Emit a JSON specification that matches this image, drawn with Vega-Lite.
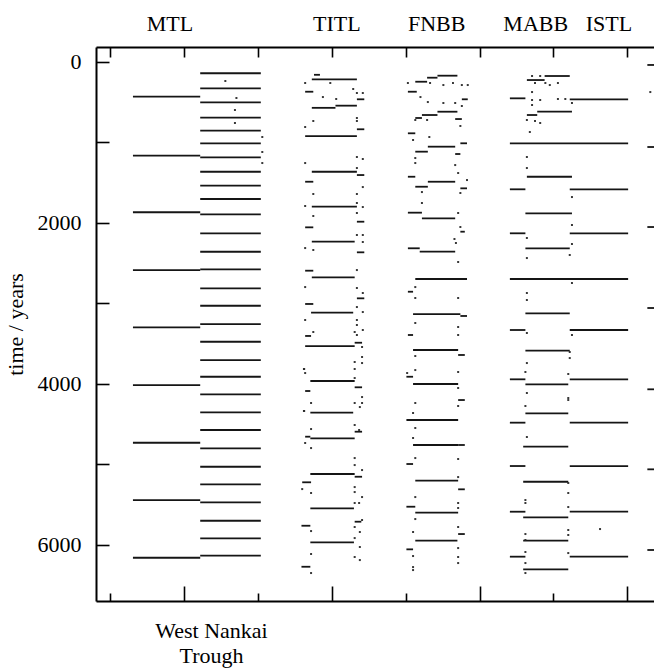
{
  "$schema": "https://vega.github.io/schema/vega-lite/v6.json",
  "width": 558,
  "height": 554,
  "autosize": "none",
  "padding": {"left": 96, "top": 47, "right": 0, "bottom": 67},
  "background": "white",
  "config": {"view": {"stroke": null}, "font": "Liberation Serif"},
  "datasets": {
    "segs": [
      {"x1": 31, "x2": 122, "t": 437}, {"x1": 31, "x2": 122, "t": 1169}, {"x1": 31, "x2": 122, "t": 1871},
      {"x1": 31, "x2": 122, "t": 2588}, {"x1": 31, "x2": 122, "t": 3299}, {"x1": 31, "x2": 122, "t": 4015},
      {"x1": 31, "x2": 122, "t": 4731}, {"x1": 31, "x2": 122, "t": 5442}, {"x1": 31, "x2": 122, "t": 6158},
      {"x1": 122, "x2": 204, "t": 146}, {"x1": 122, "x2": 204, "t": 333}, {"x1": 122, "x2": 204, "t": 506},
      {"x1": 122, "x2": 204, "t": 697}, {"x1": 122, "x2": 204, "t": 859}, {"x1": 122, "x2": 204, "t": 1015},
      {"x1": 122, "x2": 204, "t": 1189}, {"x1": 122, "x2": 204, "t": 1368}, {"x1": 122, "x2": 204, "t": 1541},
      {"x1": 122, "x2": 204, "t": 1706}, {"x1": 122, "x2": 204, "t": 1896}, {"x1": 122, "x2": 204, "t": 2132},
      {"x1": 122, "x2": 204, "t": 2361}, {"x1": 122, "x2": 204, "t": 2579}, {"x1": 122, "x2": 204, "t": 2815},
      {"x1": 122, "x2": 204, "t": 3031}, {"x1": 122, "x2": 204, "t": 3258}, {"x1": 122, "x2": 204, "t": 3478},
      {"x1": 122, "x2": 204, "t": 3705}, {"x1": 122, "x2": 204, "t": 3912}, {"x1": 122, "x2": 204, "t": 4131},
      {"x1": 122, "x2": 204, "t": 4353}, {"x1": 122, "x2": 204, "t": 4573}, {"x1": 122, "x2": 204, "t": 4800},
      {"x1": 122, "x2": 204, "t": 5029}, {"x1": 122, "x2": 204, "t": 5247}, {"x1": 122, "x2": 204, "t": 5470},
      {"x1": 122, "x2": 204, "t": 5699}, {"x1": 122, "x2": 204, "t": 5917}, {"x1": 122, "x2": 204, "t": 6133},

      {"x1": 273, "x2": 334, "t": 221}, {"x1": 276, "x2": 284, "t": 165},
      {"x1": 273, "x2": 305, "t": 575}, {"x1": 305, "x2": 334, "t": 548},
      {"x1": 264, "x2": 334, "t": 925}, {"x1": 273, "x2": 334, "t": 1368}, {"x1": 273, "x2": 334, "t": 1802},
      {"x1": 273, "x2": 331, "t": 2236}, {"x1": 273, "x2": 331, "t": 2678}, {"x1": 272, "x2": 329, "t": 3117},
      {"x1": 264, "x2": 331, "t": 3531}, {"x1": 271, "x2": 331, "t": 3965}, {"x1": 271, "x2": 329, "t": 4358},
      {"x1": 271, "x2": 331, "t": 4676}, {"x1": 271, "x2": 331, "t": 5119}, {"x1": 271, "x2": 330, "t": 5545},
      {"x1": 271, "x2": 330, "t": 5967},
      {"x1": 264, "x2": 275, "t": 375}, {"x1": 264, "x2": 275, "t": 1492}, {"x1": 264, "x2": 275, "t": 2058},
      {"x1": 264, "x2": 275, "t": 2596}, {"x1": 264, "x2": 275, "t": 3009}, {"x1": 264, "x2": 272, "t": 3406},
      {"x1": 261, "x2": 264, "t": 3816}, {"x1": 264, "x2": 271, "t": 4089}, {"x1": 261, "x2": 264, "t": 4337},
      {"x1": 264, "x2": 271, "t": 4656}, {"x1": 260, "x2": 272, "t": 5222}, {"x1": 259, "x2": 271, "t": 5761},
      {"x1": 259, "x2": 271, "t": 6270},
      {"x1": 334, "x2": 344, "t": 469}, {"x1": 334, "x2": 344, "t": 841}, {"x1": 334, "x2": 344, "t": 1409},
      {"x1": 334, "x2": 344, "t": 1988}, {"x1": 334, "x2": 344, "t": 2368}, {"x1": 334, "x2": 344, "t": 2939},
      {"x1": 331, "x2": 341, "t": 3490}, {"x1": 331, "x2": 341, "t": 4043}, {"x1": 331, "x2": 341, "t": 4594},
      {"x1": 331, "x2": 341, "t": 5153}, {"x1": 331, "x2": 340, "t": 5711},

      {"x1": 429, "x2": 443, "t": 201}, {"x1": 443, "x2": 470, "t": 176}, {"x1": 413, "x2": 429, "t": 251},
      {"x1": 422, "x2": 443, "t": 664}, {"x1": 443, "x2": 470, "t": 623}, {"x1": 413, "x2": 422, "t": 701},
      {"x1": 430, "x2": 467, "t": 1057}, {"x1": 413, "x2": 430, "t": 1119},
      {"x1": 430, "x2": 467, "t": 1492}, {"x1": 413, "x2": 430, "t": 1554},
      {"x1": 422, "x2": 467, "t": 1946}, {"x1": 419, "x2": 467, "t": 2360}, {"x1": 413, "x2": 483, "t": 2699},
      {"x1": 410, "x2": 474, "t": 3134}, {"x1": 474, "x2": 483, "t": 3158}, {"x1": 410, "x2": 471, "t": 3580},
      {"x1": 410, "x2": 471, "t": 4002}, {"x1": 401, "x2": 471, "t": 4449}, {"x1": 410, "x2": 471, "t": 4759},
      {"x1": 471, "x2": 480, "t": 4759}, {"x1": 413, "x2": 471, "t": 5202}, {"x1": 413, "x2": 471, "t": 5599},
      {"x1": 413, "x2": 470, "t": 5947},
      {"x1": 403, "x2": 415, "t": 375}, {"x1": 403, "x2": 413, "t": 891}, {"x1": 403, "x2": 413, "t": 1430},
      {"x1": 403, "x2": 422, "t": 1876}, {"x1": 403, "x2": 419, "t": 2318}, {"x1": 403, "x2": 410, "t": 2857},
      {"x1": 403, "x2": 410, "t": 3394}, {"x1": 401, "x2": 410, "t": 3912}, {"x1": 401, "x2": 410, "t": 4995},
      {"x1": 401, "x2": 413, "t": 5525}, {"x1": 401, "x2": 410, "t": 6054},
      {"x1": 476, "x2": 484, "t": 469}, {"x1": 467, "x2": 476, "t": 714}, {"x1": 474, "x2": 483, "t": 1015},
      {"x1": 467, "x2": 474, "t": 1148}, {"x1": 474, "x2": 483, "t": 1574}, {"x1": 474, "x2": 480, "t": 2112},
      {"x1": 471, "x2": 480, "t": 3642}, {"x1": 471, "x2": 480, "t": 4201}, {"x1": 471, "x2": 480, "t": 5309},
      {"x1": 471, "x2": 480, "t": 5864},

      {"x1": 564, "x2": 588, "t": 230}, {"x1": 588, "x2": 622, "t": 180},
      {"x1": 564, "x2": 578, "t": 664}, {"x1": 578, "x2": 625, "t": 623},
      {"x1": 541, "x2": 701, "t": 1015}, {"x1": 564, "x2": 625, "t": 1430}, {"x1": 562, "x2": 625, "t": 1884},
      {"x1": 562, "x2": 622, "t": 2318}, {"x1": 541, "x2": 701, "t": 2699}, {"x1": 562, "x2": 622, "t": 3125},
      {"x1": 562, "x2": 622, "t": 3589}, {"x1": 562, "x2": 620, "t": 4006}, {"x1": 562, "x2": 620, "t": 4366},
      {"x1": 559, "x2": 620, "t": 4780}, {"x1": 559, "x2": 620, "t": 5215}, {"x1": 559, "x2": 620, "t": 5656},
      {"x1": 559, "x2": 620, "t": 5947}, {"x1": 559, "x2": 620, "t": 6302},
      {"x1": 541, "x2": 562, "t": 457}, {"x1": 541, "x2": 562, "t": 1586}, {"x1": 541, "x2": 562, "t": 2132},
      {"x1": 541, "x2": 562, "t": 3332}, {"x1": 541, "x2": 562, "t": 3944}, {"x1": 541, "x2": 562, "t": 4482},
      {"x1": 541, "x2": 562, "t": 5020}, {"x1": 541, "x2": 562, "t": 5587}, {"x1": 541, "x2": 562, "t": 6145},
      {"x1": 622, "x2": 701, "t": 469}, {"x1": 622, "x2": 701, "t": 1586}, {"x1": 622, "x2": 701, "t": 2132},
      {"x1": 622, "x2": 701, "t": 3332}, {"x1": 622, "x2": 701, "t": 3944}, {"x1": 622, "x2": 701, "t": 4482},
      {"x1": 622, "x2": 701, "t": 5020}, {"x1": 622, "x2": 701, "t": 5587}, {"x1": 622, "x2": 701, "t": 6145},
      {"x1": 727, "x2": 736, "t": 43}, {"x1": 727, "x2": 736, "t": 1061}, {"x1": 727, "x2": 736, "t": 2054},
      {"x1": 727, "x2": 736, "t": 3059}, {"x1": 727, "x2": 736, "t": 4068}, {"x1": 727, "x2": 736, "t": 5061},
      {"x1": 727, "x2": 736, "t": 6062}
    ],
    "dots": [
      {"x": 156, "t": 242}, {"x": 171, "t": 453}, {"x": 169, "t": 602}, {"x": 169, "t": 763},
      {"x": 206, "t": 937}, {"x": 206, "t": 1123}, {"x": 206, "t": 1260},
      {"x": 264, "t": 267}, {"x": 298, "t": 267}, {"x": 288, "t": 441}, {"x": 306, "t": 465}, {"x": 329, "t": 341},
      {"x": 342, "t": 391}, {"x": 334, "t": 391}, {"x": 334, "t": 701}, {"x": 334, "t": 738}, {"x": 275, "t": 738},
      {"x": 264, "t": 813}, {"x": 334, "t": 1185}, {"x": 342, "t": 1210}, {"x": 264, "t": 1260}, {"x": 334, "t": 1322},
      {"x": 342, "t": 1558}, {"x": 334, "t": 1644}, {"x": 275, "t": 1644}, {"x": 264, "t": 1793}, {"x": 334, "t": 1756},
      {"x": 342, "t": 1806}, {"x": 275, "t": 1917}, {"x": 334, "t": 1880}, {"x": 334, "t": 2153}, {"x": 342, "t": 2153},
      {"x": 342, "t": 2240}, {"x": 264, "t": 2315}, {"x": 275, "t": 2339}, {"x": 334, "t": 2588}, {"x": 264, "t": 2799},
      {"x": 334, "t": 2811}, {"x": 342, "t": 2873}, {"x": 334, "t": 3047}, {"x": 342, "t": 3109}, {"x": 264, "t": 3208},
      {"x": 334, "t": 3208}, {"x": 334, "t": 3270}, {"x": 342, "t": 3332}, {"x": 275, "t": 3357}, {"x": 334, "t": 3394},
      {"x": 331, "t": 3357}, {"x": 341, "t": 3543}, {"x": 341, "t": 3667}, {"x": 331, "t": 3729}, {"x": 341, "t": 3742},
      {"x": 264, "t": 3866}, {"x": 331, "t": 3816}, {"x": 331, "t": 3928}, {"x": 341, "t": 4164}, {"x": 272, "t": 4238},
      {"x": 331, "t": 4238}, {"x": 341, "t": 4238}, {"x": 338, "t": 4288}, {"x": 331, "t": 4511}, {"x": 272, "t": 4561},
      {"x": 337, "t": 4573}, {"x": 264, "t": 4734}, {"x": 272, "t": 4797}, {"x": 331, "t": 4921}, {"x": 331, "t": 5008},
      {"x": 341, "t": 5070}, {"x": 331, "t": 5281}, {"x": 260, "t": 5306}, {"x": 331, "t": 5343}, {"x": 272, "t": 5355},
      {"x": 341, "t": 5405}, {"x": 331, "t": 5479}, {"x": 337, "t": 5479}, {"x": 341, "t": 5690}, {"x": 331, "t": 5777},
      {"x": 272, "t": 5827}, {"x": 338, "t": 5839}, {"x": 331, "t": 5914}, {"x": 338, "t": 6025}, {"x": 272, "t": 6112},
      {"x": 331, "t": 6149}, {"x": 338, "t": 6187}, {"x": 272, "t": 6348},
      {"x": 403, "t": 267}, {"x": 433, "t": 267}, {"x": 451, "t": 292}, {"x": 464, "t": 267}, {"x": 476, "t": 292},
      {"x": 484, "t": 292}, {"x": 420, "t": 441}, {"x": 430, "t": 503}, {"x": 451, "t": 515}, {"x": 467, "t": 515},
      {"x": 476, "t": 552}, {"x": 413, "t": 726}, {"x": 429, "t": 726}, {"x": 474, "t": 800}, {"x": 432, "t": 937},
      {"x": 410, "t": 974}, {"x": 413, "t": 1198}, {"x": 413, "t": 1260}, {"x": 467, "t": 1285}, {"x": 471, "t": 1384},
      {"x": 483, "t": 1471}, {"x": 422, "t": 1620}, {"x": 474, "t": 1632}, {"x": 422, "t": 1756}, {"x": 471, "t": 1880},
      {"x": 474, "t": 2054}, {"x": 466, "t": 2203}, {"x": 468, "t": 2252}, {"x": 471, "t": 2488}, {"x": 413, "t": 2799},
      {"x": 413, "t": 2935}, {"x": 471, "t": 2935}, {"x": 413, "t": 3245}, {"x": 471, "t": 3295}, {"x": 471, "t": 3394},
      {"x": 413, "t": 3655}, {"x": 471, "t": 3853}, {"x": 413, "t": 3829}, {"x": 402, "t": 3866}, {"x": 471, "t": 4052},
      {"x": 413, "t": 4238}, {"x": 471, "t": 4275}, {"x": 410, "t": 4362}, {"x": 413, "t": 4548}, {"x": 410, "t": 4672},
      {"x": 413, "t": 4921}, {"x": 471, "t": 4933}, {"x": 471, "t": 5157}, {"x": 413, "t": 5405}, {"x": 471, "t": 5479},
      {"x": 471, "t": 5541}, {"x": 413, "t": 5678}, {"x": 471, "t": 5777}, {"x": 410, "t": 5839}, {"x": 471, "t": 6038},
      {"x": 410, "t": 6137}, {"x": 471, "t": 6149}, {"x": 471, "t": 6224}, {"x": 410, "t": 6274}, {"x": 410, "t": 6311},
      {"x": 571, "t": 180}, {"x": 582, "t": 180}, {"x": 575, "t": 267}, {"x": 589, "t": 267}, {"x": 595, "t": 292},
      {"x": 606, "t": 267}, {"x": 571, "t": 379}, {"x": 571, "t": 478}, {"x": 582, "t": 478}, {"x": 606, "t": 465},
      {"x": 616, "t": 465}, {"x": 571, "t": 540}, {"x": 625, "t": 515}, {"x": 564, "t": 726}, {"x": 575, "t": 738},
      {"x": 582, "t": 763}, {"x": 568, "t": 875}, {"x": 731, "t": 379}, {"x": 564, "t": 1185}, {"x": 564, "t": 1322},
      {"x": 625, "t": 1682}, {"x": 625, "t": 2029}, {"x": 564, "t": 2190}, {"x": 625, "t": 2265}, {"x": 622, "t": 2401},
      {"x": 564, "t": 2439}, {"x": 625, "t": 2749}, {"x": 564, "t": 2873}, {"x": 564, "t": 2960}, {"x": 564, "t": 3369},
      {"x": 625, "t": 3394}, {"x": 622, "t": 3605}, {"x": 622, "t": 3680}, {"x": 564, "t": 3742}, {"x": 562, "t": 3853},
      {"x": 620, "t": 3878}, {"x": 564, "t": 4114}, {"x": 620, "t": 4176}, {"x": 620, "t": 4201}, {"x": 562, "t": 4275},
      {"x": 564, "t": 4660}, {"x": 620, "t": 5231}, {"x": 620, "t": 5355}, {"x": 562, "t": 5442}, {"x": 562, "t": 5479},
      {"x": 620, "t": 5529}, {"x": 620, "t": 5814}, {"x": 620, "t": 5876}, {"x": 562, "t": 5864}, {"x": 562, "t": 5938},
      {"x": 663, "t": 5802}, {"x": 562, "t": 6087}, {"x": 620, "t": 6100}, {"x": 562, "t": 6224}, {"x": 562, "t": 6348}
    ],
    "names": [
      {"label": "MTL", "x": 81}, {"label": "TITL", "x": 307}, {"label": "FNBB", "x": 442},
      {"label": "MABB", "x": 576}, {"label": "ISTL", "x": 675}
    ]
  },
  "resolve": {"axis": {"x": "independent", "y": "independent"}},
  "layer": [
    {
      "data": {"name": "segs"},
      "mark": {"type": "rule", "strokeWidth": 1.8, "color": "#151515"},
      "encoding": {
        "x": {
          "field": "x1", "type": "quantitative",
          "scale": {"domain": [-19, 736], "nice": false, "zero": false},
          "axis": {
            "orient": "bottom", "values": [0, 100, 200, 300, 400, 500, 600, 700],
            "labels": false, "grid": false,
            "tickSize": {"condition": {"test": "datum.value % 200 === 0", "value": -8}, "value": -15},
            "tickColor": "black", "tickWidth": 1.6, "domainColor": "black", "domainWidth": 2,
            "title": ["West Nankai", "Trough"], "titleFont": "Liberation Serif", "titleFontSize": 22,
            "titleFontWeight": "normal", "titleColor": "black", "titleX": 115, "titleY": 36,
            "titleAlign": "center", "titleBaseline": "alphabetic", "titleLineHeight": 25
          }
        },
        "x2": {"field": "x2"},
        "y": {
          "field": "t", "type": "quantitative",
          "scale": {"domain": [-180, 6695], "reverse": true, "nice": false, "zero": false},
          "axis": {
            "values": [0, 1000, 2000, 3000, 4000, 5000, 6000], "format": "d",
            "labelExpr": "datum.value % 2000 === 0 ? datum.label : ''",
            "grid": false, "tickSize": -13, "tickColor": "black", "tickWidth": 1.6,
            "domainColor": "black", "domainWidth": 2,
            "labelFont": "Liberation Serif", "labelFontSize": 22, "labelColor": "black", "labelPadding": 28,
            "title": "time / years", "titleFont": "Liberation Serif", "titleFontSize": 22,
            "titleFontWeight": "normal", "titleColor": "black", "titlePadding": 10
          }
        }
      }
    },
    {
      "data": {"name": "dots"},
      "mark": {"type": "square", "size": 4, "filled": true, "color": "#222", "opacity": 0.9},
      "encoding": {
        "x": {
          "field": "x", "type": "quantitative",
          "scale": {"domain": [-19, 736], "nice": false, "zero": false},
          "axis": {
            "orient": "top", "values": [0, 100, 200, 300, 400, 500, 600, 700],
            "labels": false, "grid": false, "title": null,
            "tickSize": -10, "tickColor": "black", "tickWidth": 1.6, "domainColor": "black", "domainWidth": 2
          }
        },
        "y": {
          "field": "t", "type": "quantitative",
          "scale": {"domain": [-180, 6695], "reverse": true, "nice": false, "zero": false},
          "axis": null
        }
      }
    },
    {
      "data": {"name": "names"},
      "mark": {"type": "text", "font": "Liberation Serif", "fontSize": 22, "align": "center", "baseline": "alphabetic", "color": "black"},
      "encoding": {
        "x": {
          "field": "x", "type": "quantitative",
          "scale": {"domain": [-19, 736], "nice": false, "zero": false},
          "axis": null
        },
        "y": {
          "datum": -379, "type": "quantitative",
          "scale": {"domain": [-180, 6695], "reverse": true, "nice": false, "zero": false},
          "axis": null
        },
        "text": {"field": "label"}
      }
    }
  ]
}
